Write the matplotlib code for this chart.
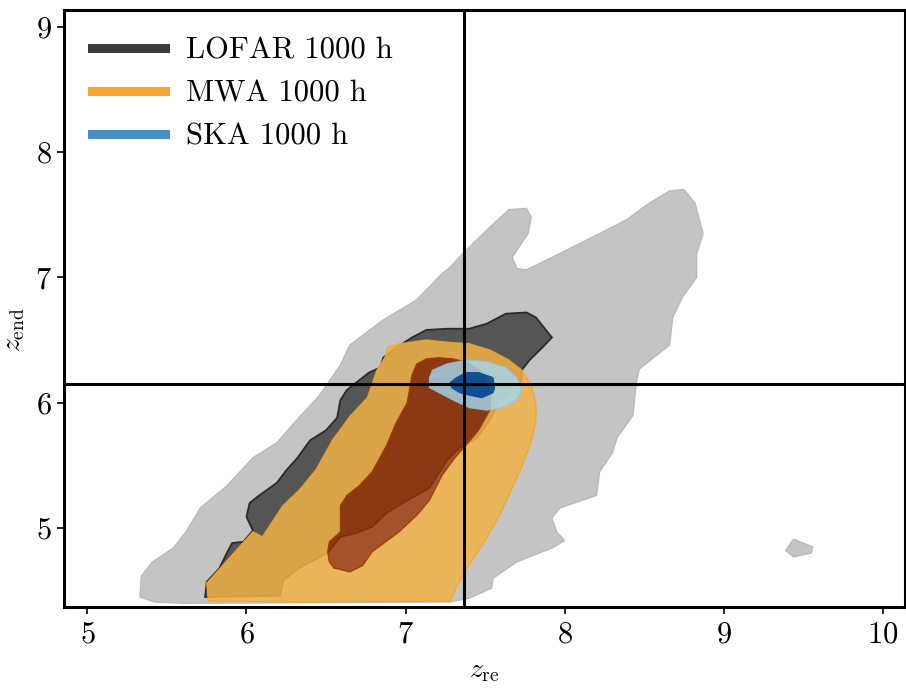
import numpy as np
import matplotlib
matplotlib.use("Agg")
import matplotlib.pyplot as plt
from matplotlib.path import Path
from matplotlib.patches import PathPatch
from matplotlib.lines import Line2D

plt.rcParams["font.family"] = ["cmr10", "DejaVu Serif"]
plt.rcParams["mathtext.fontset"] = "cm"
plt.rcParams["axes.formatter.use_mathtext"] = True

# Fiducial reionization parameters (crosshair)
z_re_true = 7.37
z_end_true = 6.15

# LOFAR 1000 h credible regions (95% and 68%)
lofar_95_x = [5.33, 5.34, 5.41, 5.54, 5.62, 5.71, 5.88, 6.04, 6.19, 6.33, 6.46, 6.59, 6.65,
              6.86, 7.07, 7.23, 7.28, 7.36, 7.53, 7.65, 7.76, 7.79, 7.77, 7.67, 7.70, 7.76,
              7.97, 8.22, 8.39, 8.53, 8.66, 8.75, 8.82, 8.87, 8.83, 8.83, 8.74, 8.68, 8.66,
              8.47, 8.45, 8.43, 8.33, 8.30, 8.22, 8.20, 7.97, 7.92, 7.95, 8.00, 7.92, 7.70,
              7.55, 7.54, 7.40, 7.28, 5.60, 5.42]
lofar_95_y = [4.45, 4.62, 4.73, 4.84, 4.97, 5.16, 5.34, 5.56, 5.68, 5.88, 6.06, 6.30, 6.46,
              6.66, 6.82, 7.03, 7.08, 7.19, 7.40, 7.54, 7.55, 7.48, 7.35, 7.16, 7.07, 7.06,
              7.19, 7.35, 7.46, 7.59, 7.69, 7.70, 7.59, 7.35, 7.19, 7.00, 6.84, 6.68, 6.46,
              6.27, 6.16, 5.90, 5.72, 5.60, 5.45, 5.26, 5.16, 5.08, 4.97, 4.90, 4.84, 4.73,
              4.60, 4.52, 4.44, 4.41, 4.40, 4.41]
lofar_95_islet_x = [9.44, 9.56, 9.55, 9.44, 9.39]
lofar_95_islet_y = [4.91, 4.85, 4.80, 4.77, 4.82]

lofar_68_x = [5.74, 5.75, 5.83, 5.88, 5.91, 5.98, 6.04, 6.00, 6.02, 6.08, 6.19, 6.25, 6.32,
              6.40, 6.50, 6.57, 6.59, 6.63, 6.71, 6.77, 6.84, 6.86, 6.93, 7.04, 7.13, 7.26,
              7.40, 7.51, 7.63, 7.76, 7.82, 7.92, 7.86, 7.78, 7.73, 7.73, 7.59, 7.53, 7.45,
              7.34, 7.26, 7.15, 7.01, 6.88, 6.79, 6.69, 6.59, 6.51, 6.33, 6.23, 6.21]
lofar_68_y = [4.45, 4.57, 4.68, 4.81, 4.88, 4.89, 4.98, 5.09, 5.20, 5.26, 5.36, 5.46, 5.56,
              5.70, 5.78, 5.88, 6.02, 6.10, 6.18, 6.24, 6.28, 6.36, 6.43, 6.52, 6.58, 6.59,
              6.59, 6.63, 6.71, 6.72, 6.68, 6.52, 6.44, 6.34, 6.26, 6.18, 6.02, 5.86, 5.72,
              5.64, 5.54, 5.32, 5.22, 5.12, 5.01, 4.96, 4.93, 4.80, 4.68, 4.58, 4.46]

# MWA 1000 h credible regions
mwa_95_x = [5.76, 5.75, 6.04, 6.10, 6.23, 6.33, 6.44, 6.54, 6.65, 6.76, 6.82, 6.87, 6.89,
            6.96, 7.13, 7.28, 7.40, 7.53, 7.65, 7.73, 7.79, 7.82, 7.82, 7.80, 7.77, 7.72,
            7.67, 7.59, 7.48, 7.37, 7.31, 7.28, 6.33]
mwa_95_y = [4.42, 4.56, 4.97, 4.93, 5.18, 5.30, 5.47, 5.70, 5.89, 6.04, 6.26, 6.36, 6.44,
            6.47, 6.50, 6.48, 6.47, 6.42, 6.34, 6.26, 6.14, 5.98, 5.86, 5.74, 5.62, 5.46,
            5.32, 5.10, 4.86, 4.65, 4.50, 4.42, 4.41]

mwa_68_x = [6.51, 6.52, 6.55, 6.65, 6.73, 6.79, 6.96, 7.07, 7.15, 7.23, 7.31, 7.38, 7.46,
            7.53, 7.54, 7.50, 7.40, 7.30, 7.21, 7.13, 7.07, 7.04, 7.01, 6.94, 6.88, 6.79,
            6.71, 6.63, 6.59, 6.59, 6.52]
mwa_68_y = [4.81, 4.73, 4.68, 4.65, 4.70, 4.81, 4.97, 5.10, 5.22, 5.42, 5.56, 5.66, 5.78,
            5.94, 6.06, 6.22, 6.32, 6.35, 6.36, 6.35, 6.31, 6.22, 6.00, 5.84, 5.66, 5.45,
            5.34, 5.26, 5.18, 4.97, 4.89]

# SKA 1000 h credible regions
ska_95_x = [7.15, 7.17, 7.26, 7.38, 7.51, 7.63, 7.70, 7.73, 7.70, 7.61, 7.51, 7.40, 7.30,
            7.21, 7.15]
ska_95_y = [6.20, 6.26, 6.31, 6.34, 6.33, 6.28, 6.20, 6.10, 6.02, 5.96, 5.94, 5.96, 6.02,
            6.08, 6.12]

ska_68_x = [7.28, 7.32, 7.38, 7.46, 7.55, 7.56, 7.55, 7.48, 7.40, 7.34, 7.29]
ska_68_y = [6.16, 6.20, 6.24, 6.24, 6.20, 6.12, 6.08, 6.04, 6.06, 6.08, 6.12]

legend_labels = ["LOFAR 1000 h", "MWA 1000 h", "SKA 1000 h"]
legend_colors = ["#3a3a3a", "#f5a533", "#4a8fc4"]


def ring(x, y, ccw=True):
    pts = np.column_stack([x, y]).astype(float)
    area = 0.5 * np.sum(pts[:, 0] * np.roll(pts[:, 1], -1) - np.roll(pts[:, 0], -1) * pts[:, 1])
    if (area > 0) != ccw:
        pts = pts[::-1]
    return pts


def band(ax, outer, inner=None, **kw):
    """Fill the region inside `outer` and outside `inner`."""
    verts, codes = [], []
    for k, (x, y) in enumerate([outer] + ([inner] if inner is not None else [])):
        pts = ring(x, y, ccw=(k == 0))
        verts += list(pts) + [pts[0]]
        codes += [Path.MOVETO] + [Path.LINETO] * (len(pts) - 1) + [Path.CLOSEPOLY]
    ax.add_patch(PathPatch(Path(np.array(verts), codes), **kw))


fig = plt.figure(figsize=(9.06, 6.9), dpi=100)
ax = fig.add_axes([0.0707, 0.1203, 0.9282, 0.8652])

# LOFAR (opaque greys)
band(ax, (lofar_95_x, lofar_95_y), facecolor="#c4c4c4", edgecolor="#b9b9b9", lw=1.0, zorder=1)
band(ax, (lofar_95_islet_x, lofar_95_islet_y), facecolor="#c4c4c4", edgecolor="#b9b9b9",
     lw=1.0, zorder=1)
band(ax, (lofar_68_x, lofar_68_y), facecolor="#555555", edgecolor="#2a2a2a", lw=1.3, zorder=2)

# MWA (translucent oranges)
band(ax, (mwa_95_x, mwa_95_y), (mwa_68_x, mwa_68_y), facecolor="#f2b446", alpha=0.85,
     edgecolor="#f5a623", lw=1.0, zorder=3)
band(ax, (mwa_68_x, mwa_68_y), facecolor="#9a3200", alpha=0.78, edgecolor="#8a3000",
     lw=0.8, zorder=3)

# SKA (translucent blues)
band(ax, (ska_95_x, ska_95_y), (ska_68_x, ska_68_y), facecolor="#a6d6ee", alpha=0.82,
     edgecolor="#8cc4e0", lw=0.8, zorder=4)
band(ax, (ska_68_x, ska_68_y), facecolor="#08509c", alpha=0.92, edgecolor="#0a4a90",
     lw=0.8, zorder=4)

ax.axvline(z_re_true, color="black", lw=2.2, zorder=5)
ax.axhline(z_end_true, color="black", lw=2.2, zorder=5)

ax.set_xlim(4.853, 10.14)
ax.set_ylim(4.37, 9.133)
ax.set_xticks([5, 6, 7, 8, 9, 10])
ax.set_yticks([5, 6, 7, 8, 9])
ax.tick_params(labelsize=22, width=1.2, length=5, direction="out")
ax.tick_params(axis="x", pad=5)
for s in ax.spines.values():
    s.set_linewidth(2.2)

ax.set_xlabel(r"$z_{\rm re}$", fontsize=20, labelpad=7)
ax.set_ylabel(r"$z_{\rm end}$", fontsize=20, labelpad=6)
ax.yaxis.label.set_y(0.465)

handles = [Line2D([], [], color=c, lw=6.5) for c in legend_colors]
ax.legend(handles, legend_labels, loc="upper left", frameon=False, fontsize=22,
          handlelength=2.4, handletextpad=0.7, labelspacing=0.5)

fig.savefig("out.png", dpi=100)
